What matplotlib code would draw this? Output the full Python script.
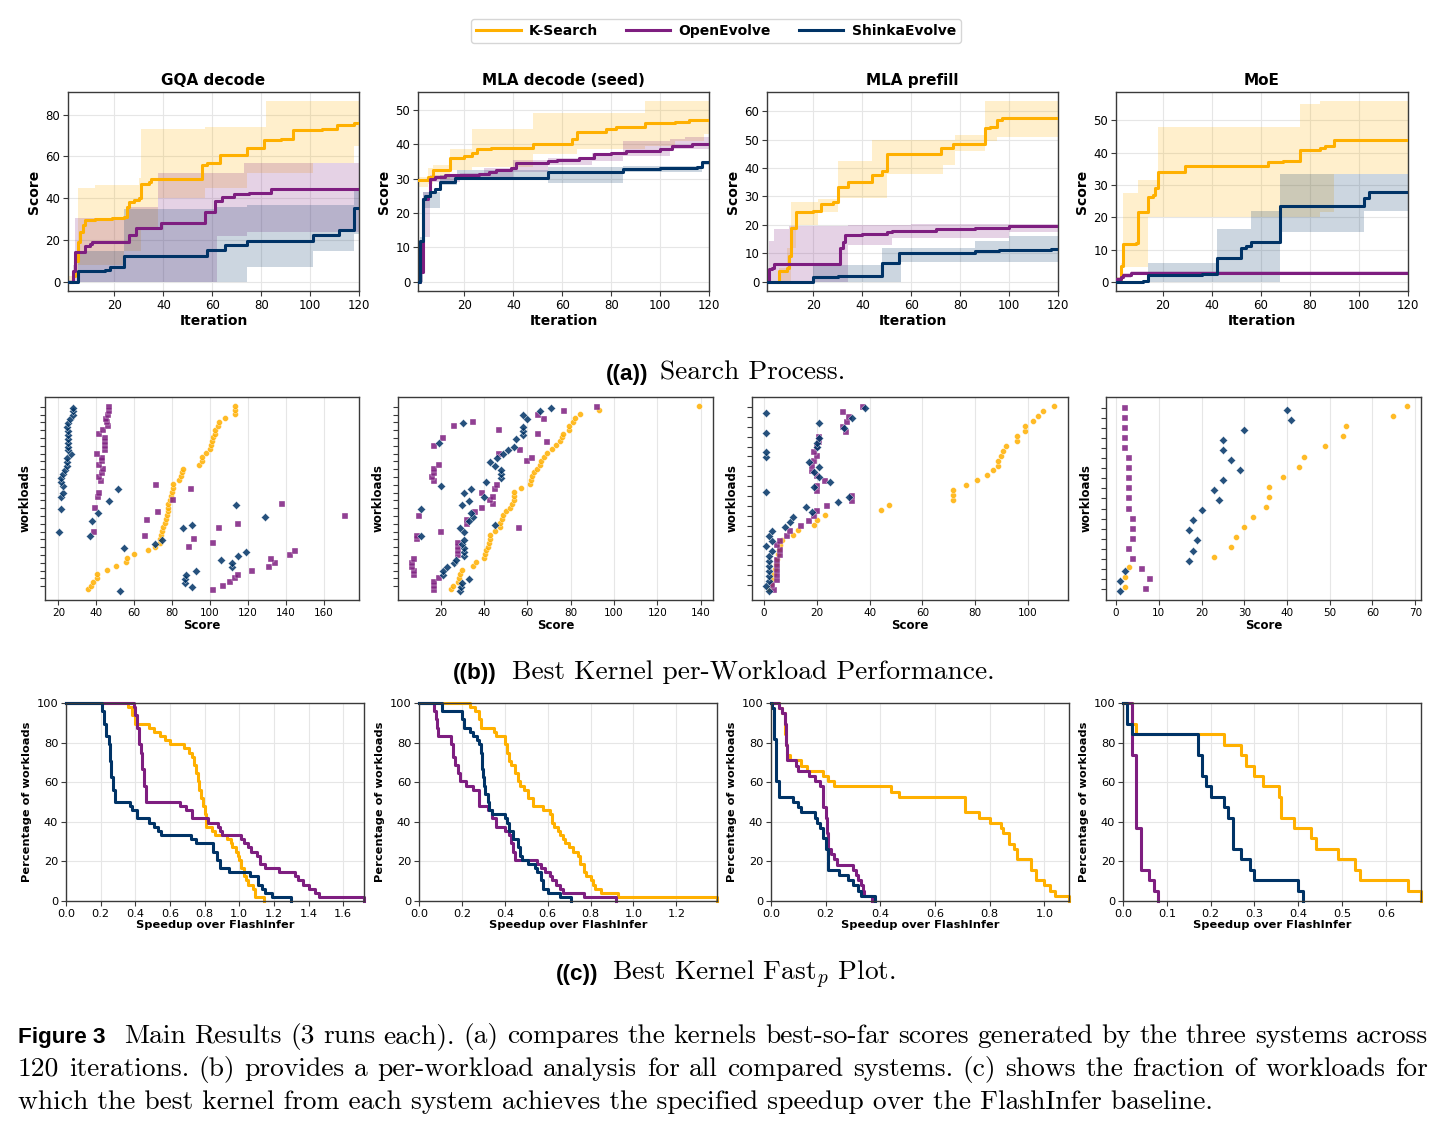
import numpy as np
import matplotlib
matplotlib.use('Agg')
import matplotlib.pyplot as plt
from matplotlib.ticker import MultipleLocator

W, H = 1445, 1129

systems = ['K-Search', 'OpenEvolve', 'ShinkaEvolve']
colors = ['#FFB000', '#7E1E80', '#003366']
kernels = ['GQA decode', 'MLA decode (seed)', 'MLA prefill', 'MoE']

# ---------------- (a) search process: mean best-so-far score + band ----------------
# GQA decode
gqa_ks_it = [1, 3, 4, 5, 6, 7, 8, 12, 19, 24, 25, 26, 28, 30, 31, 34, 35, 56, 58, 63, 74, 81, 88, 93, 105, 111, 118]
gqa_ks_mean = [0, 3, 10, 19, 24, 27, 29.5, 30, 30.5, 31, 36, 38, 39, 40, 47, 48, 49, 56, 57, 60.5, 64, 68, 68.5, 72.5, 73, 75, 76]
gqa_ks_bit = [1, 4, 5, 12, 24, 30, 31, 38, 57, 74, 82, 101, 118]
gqa_ks_lo = [0, 2, 8, 8, 15, 15, 25, 40, 45, 52, 52, 57, 65]
gqa_ks_hi = [3, 14, 45, 46.5, 46.5, 49.5, 73, 73, 74, 74, 86.5, 86.5, 86.5]
gqa_oe_it = [1, 3, 4, 8, 10, 11, 26, 29, 39, 57, 61, 64, 69, 75, 84]
gqa_oe_mean = [0, 5, 14.5, 17, 18, 19, 22.5, 26, 28, 33.5, 38.5, 40.5, 42, 42.5, 44.5]
gqa_oe_bit = [1, 3, 4, 25, 38, 62, 73, 74]
gqa_oe_lo = [0, 0, 0, 0, 0, 22, 22, 24]
gqa_oe_hi = [1, 8, 30.5, 36, 52, 52, 57, 57]
gqa_se_it = [1, 5, 16, 18, 24, 58, 65, 74, 101, 112, 118]
gqa_se_mean = [0, 5, 5.5, 7, 12.5, 15.5, 17.5, 19.5, 22.5, 25, 35.5]
gqa_se_bit = [1, 5, 24, 62, 74, 101, 118]
gqa_se_lo = [0, 0, 0, 0, 7, 15, 23]
gqa_se_hi = [0, 15, 35, 36, 37, 37, 45]

# MLA decode (seed)
md_ks_it = [1, 5, 7, 14, 20, 23, 25, 31, 48, 64, 66, 78, 82, 94, 106, 112]
md_ks_mean = [29.5, 30.5, 32.5, 36, 36.5, 37.5, 38.5, 39, 40, 41.5, 43.5, 44.5, 45, 46, 46.5, 47]
md_ks_bit = [1, 5, 7, 14, 23, 48, 66, 94, 106, 118]
md_ks_lo = [27.5, 28.5, 30, 32.5, 33.5, 37, 38.5, 39.5, 41, 43]
md_ks_hi = [30.5, 33, 34, 38.5, 44.5, 49, 49, 52.5, 52.5, 52.5]
md_oe_it = [1, 2, 3, 5, 6, 8, 12, 26, 30, 33, 39, 41, 54, 58, 67, 73, 80, 86, 100, 105, 113]
md_oe_mean = [0, 3, 24, 25, 30, 30.5, 31, 31.2, 32, 32.5, 33, 34.5, 35, 35.3, 36, 37, 37.5, 38, 38.5, 39.5, 40]
md_oe_bit = [1, 2, 3, 6, 18, 28, 40, 54, 72, 85, 104, 110]
md_oe_lo = [0, 0, 13, 29, 30.3, 30.5, 32, 34, 35, 36.5, 38.5, 38.5]
md_oe_hi = [0, 4, 26, 31, 31.5, 33, 35.5, 36, 37.5, 41, 41.5, 42]
md_se_it = [1, 2, 3, 4, 6, 8, 10, 16, 54, 85, 100, 115, 117]
md_se_mean = [0, 12, 24, 25, 26, 27, 29, 30.3, 31.8, 32.8, 33, 33.5, 34.8]
md_se_bit = [1, 2, 3, 10, 17, 54, 85, 117]
md_se_lo = [0, 0, 21.5, 28, 29.5, 28.7, 32, 34]
md_se_hi = [0, 13, 26, 31, 32.5, 33.5, 33.6, 35.2]

# MLA prefill
mp_ks_it = [1, 6, 9, 10, 11, 13, 20, 23, 28, 30, 34, 44, 48, 50, 72, 77, 90, 92, 95, 97]
mp_ks_mean = [0, 4, 5, 9, 19, 24.5, 25, 27.5, 28, 33.5, 35, 37.5, 39, 45, 47, 48.5, 54, 54.5, 57, 57.5]
mp_ks_bit = [1, 6, 9, 11, 13, 22, 30, 44, 50, 73, 78, 90, 95]
mp_ks_lo = [0, 0, 0, 12, 20, 24.5, 29.5, 29.5, 38, 41, 46, 49.5, 51]
mp_ks_hi = [0, 5, 12, 28, 28, 29, 42.5, 50, 50, 50, 51.5, 63.5, 63.5]
mp_oe_it = [1, 2, 3, 4, 31, 32, 33, 40, 50, 52, 70, 86, 100]
mp_oe_mean = [0, 4.5, 5, 6.2, 12, 14, 16.5, 17, 17.5, 18, 18.5, 19, 19.5]
mp_oe_bit = [1, 2, 4, 10, 34, 52, 60, 100]
mp_oe_lo = [0, 0, 0, 0, 13, 15.5, 15.5, 17.5]
mp_oe_hi = [0, 14.5, 18.5, 19.5, 20, 20, 20.5, 20.5]
mp_se_it = [1, 20, 30, 35, 48, 55, 86, 96, 117]
mp_se_mean = [0, 1.8, 2, 2.2, 6.5, 10.2, 11, 11.2, 11.5]
mp_se_bit = [1, 20, 33, 48, 56, 86, 100]
mp_se_lo = [0, 0, 0, 0, 7, 7, 7]
mp_se_hi = [0, 6, 6, 12, 12, 14.5, 16]

# MoE
moe_ks_it = [1, 3, 4, 9, 10, 14, 16, 17, 18, 29, 63, 69, 76, 84, 86, 90]
moe_ks_mean = [1, 5, 11.7, 12, 21.5, 26.3, 27, 29, 34, 36, 37, 37.3, 41, 41.5, 42, 44]
moe_ks_bit = [1, 3, 4, 10, 14, 18, 76, 84, 90]
moe_ks_lo = [0, 0, 4.5, 4.5, 20, 20, 20, 21.5, 33.5]
moe_ks_hi = [1.5, 6, 27.5, 31.5, 31.5, 48, 55, 56, 56]
moe_oe_it = [1, 3, 4, 7]
moe_oe_mean = [1, 1.5, 2.2, 2.8]
moe_oe_bit = [1, 4, 7]
moe_oe_lo = [0.5, 1.2, 2.4]
moe_oe_hi = [1.5, 2.8, 3.3]
moe_se_it = [1, 12, 14, 36, 42, 52, 54, 56, 68, 102, 104]
moe_se_mean = [0, 0.3, 2, 2.5, 7.5, 10.5, 11, 12.5, 23.5, 26, 28]
moe_se_bit = [1, 12, 14, 42, 56, 68, 102]
moe_se_lo = [0, 0, 0, 0, 0, 15.5, 22]
moe_se_hi = [0, 0.5, 6, 16.5, 22, 33.3, 33.3]

# ---------------- (b) best kernel score per workload (bottom -> top) ----------------
gqa_ws_ks = [35.5, 37.4, 38.4, 40.6, 40.6, 45.8, 50.7, 55.7, 56.5, 59.7, 67.6, 70.8, 73.6, 73.8, 74.1, 74.6,
             75.3, 76.4, 76.7, 77.3, 77.8, 78.0, 78.1, 79.2, 79.7, 79.9, 80.6, 80.8, 83.6, 84.6, 85.3, 85.9,
             94.1, 95.9, 95.9, 98.0, 100.1, 100.6, 101.0, 101.9, 102.6, 102.9, 104.1, 104.8, 108.2, 113.1, 113.1, 113.1]
gqa_ws_oe = [101.7, 106.8, 110.8, 113.1, 114.9, 122.2, 131.2, 134.2, 132.2, 142.3, 145.2, 88.9, 101.7, 91.7, 65.8, 38.6,
             104.8, 114.9, 66.9, 171.2, 72.7, 39.5, 137.9, 80.8, 40.7, 41.6, 89.9, 71.5, 42.3, 41.6, 42.8, 43.7,
             41.6, 42.8, 42.8, 40.6, 44.8, 44.8, 44.8, 44.8, 41.6, 43.7, 46.0, 45.8, 45.1, 46.0, 46.9, 46.9]
gqa_ws_se = [52.5, 90.8, 86.7, 86.7, 87.6, 92.9, 111.9, 111.9, 105.9, 114.9, 118.9, 54.8, 70.9, 74.8, 36.7, 20.5,
             85.7, 90.8, 37.6, 128.9, 40.7, 21.2, 114.0, 46.7, 21.2, 22.3, 51.6, 22.3, 21.2, 21.2, 22.3, 23.5,
             24.4, 24.4, 24.4, 26.5, 25.3, 25.3, 25.3, 25.3, 25.3, 25.3, 24.4, 25.3, 26.1, 27.6, 27.6, 27.6]

md_ws_ks = [24.9, 25.8, 28.1, 28.6, 29.2, 30.0, 35.0, 36.2, 39.9, 40.3, 41.1, 41.9, 42.2, 42.7, 43.0, 45.0,
            47.2, 47.6, 48.4, 49.0, 50.3, 51.9, 53.1, 53.8, 54.0, 54.1, 57.1, 61.2, 61.7, 62.2, 63.1, 64.3,
            65.8, 66.1, 67.6, 69.2, 71.2, 73.1, 75.1, 75.9, 76.4, 79.3, 79.3, 81.2, 82.1, 84.2, 93.0, 139.0]
md_ws_oe = [16.9, 16.9, 16.9, 19.2, 8.0, 8.0, 7.0, 7.0, 8.0, 28.0, 28.0, 28.0, 28.0, 9.3, 9.3, 20.0,
            56.0, 32.3, 32.1, 9.9, 36.1, 39.2, 44.1, 43.0, 44.1, 39.2, 45.0, 45.9, 16.9, 16.0, 16.9, 16.9,
            19.2, 60.0, 62.0, 47.0, 56.8, 16.9, 69.0, 21.2, 64.8, 47.0, 26.1, 35.0, 67.9, 65.0, 76.8, 92.1]
md_ws_se = [29.0, 29.5, 30.0, 33.0, 21.1, 21.1, 23.1, 26.0, 27.0, 31.0, 31.0, 31.0, 30.0, 31.0, 11.1, 31.0,
            29.0, 45.0, 33.0, 35.2, 34.1, 11.1, 30.1, 33.0, 40.1, 31.0, 34.1, 20.0, 41.0, 48.1, 48.1, 48.1,
            45.0, 43.0, 46.0, 49.0, 51.0, 53.9, 19.1, 54.8, 58.0, 58.0, 58.0, 30.3, 60.0, 57.9, 65.9, 71.0]

mp_ws_ks = [2.0, 2.5, 3.0, 3.8, 4.2, 4.6, 5.0, 5.2, 5.5, 6.0, 7.0, 11.0, 13.0, 19.0, 20.1, 23.1, 44.3, 47.4, 71.7,
            71.7, 71.7, 76.6, 80.7, 84.6, 86.7, 88.7, 88.7, 89.7, 90.7, 91.7, 95.7, 95.7, 98.7, 98.7, 101.8,
            103.8, 105.8, 109.7]
mp_ws_oe = [3.9, 2.9, 5.0, 5.0, 5.0, 5.0, 5.0, 6.0, 6.0, 5.0, 6.0, 8.9, 9.9, 14.0, 16.9, 19.0, 20.1, 24.0, 33.2,
            33.2, 20.1, 20.1, 23.1, 20.1, 18.0, 18.0, 19.0, 20.0, 19.0, 20.1, 21.0, 21.0, 31.1, 30.1, 31.5,
            32.1, 30.1, 37.4]
mp_ws_se = [1.9, 0.9, 1.9, 1.9, 1.9, 1.9, 1.9, 1.9, 2.9, 0.9, 2.9, 1.9, 2.9, 7.9, 9.9, 10.9, 18.0, 16.0, 28.1,
            32.1, 0.9, 19.0, 25.0, 21.0, 19.0, 21.0, 16.9, 0.9, 0.9, 20.1, 20.1, 21.0, 0.9, 30.4, 21.0, 33.3,
            0.9, 38.1]

moe_ws_ks = [2, 2, 3, 23, 27, 28, 30, 32, 35, 35.9, 35.9, 39, 42.9, 44, 49, 53, 53.9, 64.8, 68]
moe_ws_oe = [7, 8, 6, 4, 3, 4, 4, 4, 3, 3, 3, 3, 3, 3, 2, 2, 2, 2, 2]
moe_ws_se = [1, 1, 2, 17, 18, 19, 17, 18, 20, 24, 23, 25, 29, 27, 25, 25, 30, 41, 40]

# ---------------- (c) fast_p: % of workloads at or above speedup p ----------------
gqa_fp_ks_x = [0, 0.36, 0.38, 0.40, 0.48, 0.51, 0.54, 0.57, 0.60, 0.68, 0.71, 0.73, 0.74, 0.75, 0.76, 0.77, 0.78,
               0.79, 0.80, 0.81, 0.84, 0.86, 0.93, 0.95, 0.96, 0.98, 0.99, 1.00, 1.01, 1.03, 1.04, 1.05, 1.08, 1.09, 1.14]
gqa_fp_ks_y = [100, 97.9, 93.8, 89.6, 87.5, 85.4, 83.3, 81.2, 79.2, 77.1, 75.0, 72.9, 68.8, 64.6, 60.4, 56.2, 52.1,
               47.9, 43.8, 37.5, 35.4, 33.3, 31.2, 29.2, 27.1, 25.0, 22.9, 20.8, 16.7, 12.5, 10.4, 8.3, 6.2, 2.1, 0]
gqa_fp_oe_x = [0, 0.39, 0.40, 0.41, 0.42, 0.43, 0.44, 0.45, 0.46, 0.66, 0.69, 0.73, 0.82, 0.88, 0.89, 0.90, 1.01,
               1.03, 1.05, 1.07, 1.10, 1.12, 1.15, 1.23, 1.32, 1.34, 1.37, 1.40, 1.44, 1.46, 1.72]
gqa_fp_oe_y = [100, 97.9, 93.8, 87.5, 79.2, 75.0, 66.7, 58.3, 50.0, 47.9, 45.8, 41.7, 39.6, 37.5, 35.4, 33.3, 31.2,
               29.2, 27.1, 25.0, 22.9, 18.8, 16.7, 14.6, 12.5, 10.4, 8.3, 6.2, 4.2, 2.1, 0]
gqa_fp_se_x = [0, 0.21, 0.22, 0.23, 0.25, 0.255, 0.26, 0.27, 0.28, 0.37, 0.38, 0.41, 0.48, 0.51, 0.53, 0.55, 0.72,
               0.75, 0.85, 0.87, 0.89, 0.94, 1.06, 1.11, 1.13, 1.15, 1.19, 1.30]
gqa_fp_se_y = [100, 95.8, 89.6, 83.3, 79.2, 70.8, 62.5, 56.2, 50.0, 47.9, 45.8, 41.7, 39.6, 37.5, 35.4, 33.3, 31.2,
               29.2, 25.0, 20.8, 16.7, 14.6, 12.5, 8.3, 6.2, 4.2, 2.1, 0]

md_fp_ks_x = [0, 0.24, 0.26, 0.28, 0.29, 0.35, 0.36, 0.40, 0.41, 0.42, 0.43, 0.45, 0.46, 0.47, 0.49, 0.51, 0.53,
              0.58, 0.61, 0.62, 0.63, 0.65, 0.66, 0.67, 0.68, 0.70, 0.72, 0.74, 0.75, 0.77, 0.78, 0.80, 0.81, 0.82,
              0.85, 0.93, 1.39]
md_fp_ks_y = [100, 97.9, 95.8, 91.7, 87.5, 85.4, 83.3, 79.2, 75.0, 70.8, 68.8, 64.6, 60.4, 58.3, 56.2, 52.1, 47.9,
              45.8, 43.8, 39.6, 37.5, 35.4, 33.3, 31.2, 29.2, 27.1, 25.0, 22.9, 18.8, 14.6, 12.5, 10.4, 8.3, 6.2,
              4.2, 2.1, 0]
md_fp_oe_x = [0, 0.07, 0.08, 0.085, 0.09, 0.15, 0.16, 0.17, 0.18, 0.19, 0.22, 0.25, 0.28, 0.32, 0.34, 0.36, 0.40,
              0.42, 0.43, 0.44, 0.45, 0.55, 0.57, 0.59, 0.61, 0.62, 0.64, 0.66, 0.67, 0.77, 0.92]
md_fp_oe_y = [100, 95.8, 91.7, 87.5, 83.3, 79.2, 72.9, 68.8, 64.6, 60.4, 58.3, 56.2, 47.9, 45.8, 41.7, 37.5, 35.4,
              33.3, 29.2, 25.0, 20.8, 18.8, 16.7, 14.6, 12.5, 10.4, 8.3, 6.2, 4.2, 2.1, 0]
md_fp_se_x = [0, 0.105, 0.20, 0.21, 0.24, 0.25, 0.27, 0.28, 0.29, 0.295, 0.30, 0.305, 0.31, 0.32, 0.325, 0.34,
              0.40, 0.41, 0.42, 0.44, 0.46, 0.47, 0.48, 0.51, 0.54, 0.55, 0.57, 0.58, 0.60, 0.66, 0.71]
md_fp_se_y = [100, 95.8, 91.7, 87.5, 85.4, 83.3, 81.2, 79.2, 75.0, 66.7, 62.5, 58.3, 54.2, 50.0, 45.8, 43.8,
              41.7, 39.6, 35.4, 31.2, 27.1, 22.9, 20.8, 18.8, 16.7, 14.6, 10.4, 6.2, 4.2, 2.1, 0]

mp_fp_ks_x = [0, 0.03, 0.04, 0.05, 0.053, 0.056, 0.06, 0.07, 0.11, 0.13, 0.19, 0.21, 0.23, 0.44, 0.47, 0.71, 0.76,
              0.80, 0.84, 0.85, 0.87, 0.89, 0.90, 0.95, 0.97, 1.00, 1.02, 1.04, 1.09]
mp_fp_ks_y = [100, 97.4, 94.7, 89.5, 84.2, 78.9, 73.7, 71.1, 68.4, 65.8, 63.2, 60.5, 57.9, 55.3, 52.6, 44.7, 42.1,
              39.5, 36.8, 34.2, 28.9, 26.3, 21.1, 15.8, 10.5, 7.9, 5.3, 2.6, 0]
mp_fp_oe_x = [0, 0.03, 0.04, 0.05, 0.055, 0.06, 0.09, 0.10, 0.14, 0.16, 0.18, 0.19, 0.20, 0.205, 0.21, 0.22, 0.23,
              0.24, 0.30, 0.31, 0.32, 0.33, 0.335, 0.34, 0.37]
mp_fp_oe_y = [100, 97.4, 94.7, 89.5, 78.9, 71.1, 68.4, 65.8, 63.2, 60.5, 57.9, 47.4, 42.1, 34.2, 26.3, 23.7, 21.1,
              18.4, 15.8, 13.2, 10.5, 7.9, 5.3, 2.6, 0]
mp_fp_se_x = [0, 0.005, 0.01, 0.02, 0.03, 0.08, 0.10, 0.11, 0.16, 0.17, 0.18, 0.19, 0.20, 0.21, 0.25, 0.28, 0.30,
              0.32, 0.33, 0.38]
mp_fp_se_y = [100, 97.4, 81.6, 60.5, 52.6, 50.0, 47.4, 44.7, 42.1, 39.5, 36.8, 31.6, 26.3, 15.8, 13.2, 10.5, 7.9,
              5.3, 2.6, 0]

moe_fp_ks_x = [0, 0.02, 0.03, 0.23, 0.27, 0.28, 0.30, 0.32, 0.355, 0.36, 0.39, 0.43, 0.44, 0.49, 0.53, 0.54, 0.65, 0.68]
moe_fp_ks_y = [100, 89.5, 84.2, 78.9, 73.7, 68.4, 63.2, 57.9, 52.6, 42.1, 36.8, 31.6, 26.3, 21.1, 15.8, 10.5, 5.3, 0]
moe_fp_oe_x = [0, 0.02, 0.03, 0.04, 0.06, 0.07, 0.08]
moe_fp_oe_y = [100, 73.7, 36.8, 15.8, 10.5, 5.3, 0]
moe_fp_se_x = [0, 0.01, 0.02, 0.17, 0.18, 0.19, 0.20, 0.23, 0.24, 0.25, 0.27, 0.29, 0.30, 0.40, 0.41]
moe_fp_se_y = [100, 89.5, 84.2, 73.7, 63.2, 57.9, 52.6, 47.4, 42.1, 26.3, 21.1, 15.8, 10.5, 5.3, 0]

search = [
    [(gqa_ks_it, gqa_ks_mean, gqa_ks_bit, gqa_ks_lo, gqa_ks_hi),
     (gqa_oe_it, gqa_oe_mean, gqa_oe_bit, gqa_oe_lo, gqa_oe_hi),
     (gqa_se_it, gqa_se_mean, gqa_se_bit, gqa_se_lo, gqa_se_hi)],
    [(md_ks_it, md_ks_mean, md_ks_bit, md_ks_lo, md_ks_hi),
     (md_oe_it, md_oe_mean, md_oe_bit, md_oe_lo, md_oe_hi),
     (md_se_it, md_se_mean, md_se_bit, md_se_lo, md_se_hi)],
    [(mp_ks_it, mp_ks_mean, mp_ks_bit, mp_ks_lo, mp_ks_hi),
     (mp_oe_it, mp_oe_mean, mp_oe_bit, mp_oe_lo, mp_oe_hi),
     (mp_se_it, mp_se_mean, mp_se_bit, mp_se_lo, mp_se_hi)],
    [(moe_ks_it, moe_ks_mean, moe_ks_bit, moe_ks_lo, moe_ks_hi),
     (moe_oe_it, moe_oe_mean, moe_oe_bit, moe_oe_lo, moe_oe_hi),
     (moe_se_it, moe_se_mean, moe_se_bit, moe_se_lo, moe_se_hi)],
]
workload = [
    (gqa_ws_ks, gqa_ws_oe, gqa_ws_se),
    (md_ws_ks, md_ws_oe, md_ws_se),
    (mp_ws_ks, mp_ws_oe, mp_ws_se),
    (moe_ws_ks, moe_ws_oe, moe_ws_se),
]
fastp = [
    [(gqa_fp_ks_x, gqa_fp_ks_y), (gqa_fp_oe_x, gqa_fp_oe_y), (gqa_fp_se_x, gqa_fp_se_y)],
    [(md_fp_ks_x, md_fp_ks_y), (md_fp_oe_x, md_fp_oe_y), (md_fp_se_x, md_fp_se_y)],
    [(mp_fp_ks_x, mp_fp_ks_y), (mp_fp_oe_x, mp_fp_oe_y), (mp_fp_se_x, mp_fp_se_y)],
    [(moe_fp_ks_x, moe_fp_ks_y), (moe_fp_oe_x, moe_fp_oe_y), (moe_fp_se_x, moe_fp_se_y)],
]

plt.rcParams['mathtext.fontset'] = 'cm'
fig = plt.figure(figsize=(W / 100, H / 100), dpi=100)


def box(l, t, r, b):
    return fig.add_axes([l / W, 1 - b / H, (r - l) / W, (b - t) / H])


def style(ax, size, grid_axis='both'):
    for s in ax.spines.values():
        s.set_color('#3a3a3a')
        s.set_linewidth(1.0)
    ax.tick_params(labelsize=size, length=3.5, width=0.8, color='#3a3a3a', pad=2)
    ax.grid(True, axis=grid_axis, color='#e6e6e6', lw=0.8)
    ax.set_axisbelow(True)


# row (a)
a_cols = [(68, 359), (418, 709), (767, 1058), (1116, 1408)]
handles = []
for k, (l, r) in enumerate(a_cols):
    ax = box(l, 92, r, 291)
    style(ax, 8.5)
    for s in range(3):
        it, mean, bit, lo, hi = search[k][s]
        ax.fill_between(np.append(bit, 120), np.append(lo, lo[-1]), np.append(hi, hi[-1]),
                        step='post', color=colors[s], alpha=0.2, lw=0)
    for s in range(3):
        it, mean, bit, lo, hi = search[k][s]
        ln, = ax.step(np.append(it, 120), np.append(mean, mean[-1]), where='post',
                      color=colors[s], lw=2.2, label=systems[s], zorder=3)
        if k == 0:
            handles.append(ln)
    ax.set_xlim(1, 120)
    ax.xaxis.set_major_locator(MultipleLocator(20))
    ax.set_title(kernels[k], fontsize=11, fontweight='bold', pad=5)
    ax.set_xlabel('Iteration', fontsize=10, fontweight='bold', labelpad=2)
    ax.set_ylabel('Score', fontsize=10, fontweight='bold', labelpad=3)

# row (b)
b_cols = [(45, 359), (398, 713), (752, 1068), (1106, 1421)]
b_step = [20, 20, 20, 10]
markers = ['o', 's', 'D']
offsets = [0.17, 0.0, -0.17]
for k, (l, r) in enumerate(b_cols):
    ax = box(l, 397, r, 600)
    style(ax, 7.5, grid_axis='x')
    n = len(workload[k][0])
    idx = np.arange(n)
    for s in range(3):
        ax.scatter(workload[k][s], idx + offsets[s], marker=markers[s], s=18, color=colors[s],
                   alpha=0.85, edgecolors='white', linewidths=0.3, zorder=3)
    step = 1 if n < 25 else 2
    ax.set_yticks(np.arange(n - 1, -1, -step))
    ax.set_yticklabels([])
    ax.xaxis.set_major_locator(MultipleLocator(b_step[k]))
    ax.set_xlabel('Score', fontsize=8.5, fontweight='bold', labelpad=1)
    ax.set_ylabel('workloads', fontsize=8.5, fontweight='bold', labelpad=4)

# row (c)
c_cols = [(66, 364), (419, 717), (771, 1069), (1123, 1421)]
c_step = [0.2, 0.2, 0.2, 0.1]
for k, (l, r) in enumerate(c_cols):
    ax = box(l, 703, r, 901)
    style(ax, 8.2)
    xmax = 0
    for s in range(3):
        x, y = fastp[k][s]
        ax.step(x, y, where='post', color=colors[s], lw=2.2, clip_on=False)
        xmax = max(xmax, max(x))
    ax.set_xlim(0, xmax)
    ax.set_ylim(0, 100)
    ax.xaxis.set_major_locator(MultipleLocator(c_step[k]))
    ax.yaxis.set_major_locator(MultipleLocator(20))
    ax.set_xlabel('Speedup over FlashInfer', fontsize=8.2, fontweight='bold', labelpad=1)
    ax.set_ylabel('Percentage of workloads', fontsize=8.2, fontweight='bold', labelpad=3)

fig.legend(handles, systems, loc='center', bbox_to_anchor=(716 / W, 1 - 31 / H), ncol=3,
           prop={'weight': 'bold', 'size': 10}, handlelength=3.2, handletextpad=0.6,
           columnspacing=2.0, borderpad=0.35, frameon=True, edgecolor='#cccccc')

# captions
serif = 'cmr10'
sans = 'Liberation Sans'
rend = fig.canvas.get_renderer()


def text_width(s, size, family, weight='normal'):
    t = fig.text(0, 0, s, fontsize=size, family=family, weight=weight)
    w = t.get_window_extent(rend).width
    t.remove()
    return w


def put(x, y, s, size, family, weight='normal', ha='left'):
    fig.text(x / W, 1 - y / H, s, fontsize=size, family=family, weight=weight, ha=ha, va='baseline')


line3 = 'which the best kernel from each system achieves the specified speedup over the FlashInfer baseline.'
S = 10 * 1200 / text_width(line3, 10, serif)
SB = 10 * 88 / text_width('Figure 3', 10, sans, 'bold')

put(648, 380, '((a))', SB, sans, 'bold', 'right')
put(660, 380, 'Search Process.', S, serif)
put(497, 679, '((b))', SB, sans, 'bold', 'right')
put(512, 679, 'Best Kernel per-Workload Performance.', S, serif)
put(598, 980, '((c))', SB, sans, 'bold', 'right')
put(612, 980, 'Best Kernel Fast$_p$ Plot.', S, serif)


def justify(words, x0, x1, y):
    widths = [text_width(w, S, serif) for w in words]
    gap = (x1 - x0 - sum(widths)) / (len(words) - 1)
    x = x0
    for w, wd in zip(words, widths):
        put(x, y, w, S, serif)
        x += wd + gap


put(18, 1043, 'Figure 3', SB, sans, 'bold')
justify('Main Results (3 runs each). (a) compares the kernels best-so-far scores generated by the three '
        'systems across'.split(), 124, 1428, 1043)
justify('120 iterations. (b) provides a per-workload analysis for all compared systems. (c) shows the '
        'fraction of workloads for'.split(), 18, 1428, 1076)
put(18, 1109, line3, S, serif)

fig.savefig('out.png', dpi=100)
